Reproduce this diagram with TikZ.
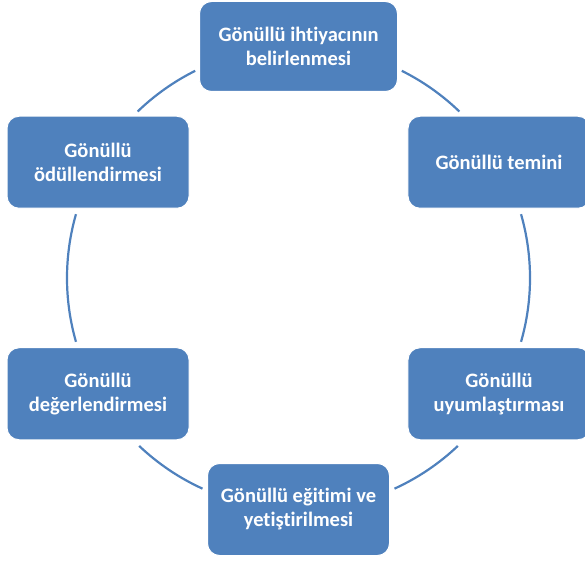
\documentclass[tikz,border=0pt]{standalone}
\usepackage{fontspec}
\setmainfont{Carlito}[Ligatures=NoCommon]
\usetikzlibrary{positioning}
\definecolor{boxblue}{RGB}{79,129,189}

\begin{document}
\begin{tikzpicture}[x=1pt,y=1pt,
  stage/.style={draw=white,line width=1pt,fill=boxblue,rounded corners=12pt,
    minimum width=182pt,minimum height=92pt,align=center,text=white,
    font=\fontsize{20.5}{24}\selectfont\bfseries},
  link/.style={draw=boxblue,line width=2.2pt}]
  \useasboundingbox (0,0) rectangle (585,562);
  \coordinate (c) at (298.5,284);
  \def\rad{231.5}

  % the six stages round the cycle
  \node[stage,minimum width=198pt,minimum height=90pt] (need) at ([shift={(90:\rad)}]c) {Gönüllü ihtiyacının\\belirlenmesi};
  \node[stage] (supply) at ([shift={(30:\rad)}]c) {Gönüllü temini};
  \node[stage] (adapt) at ([shift={(-30:\rad)}]c) {Gönüllü\\uyumlaştırması};
  \node[stage] (train) at ([shift={(-90:\rad)}]c) {Gönüllü eğitimi ve\\yetiştirilmesi};
  \node[stage] (assess) at ([shift={(-150:\rad)}]c) {Gönüllü\\değerlendirmesi};
  \node[stage] (reward) at ([shift={(150:\rad)}]c) {Gönüllü\\ödüllendirmesi};

  % arcs between the stages
  \foreach \a/\b in {46/63.5, -16/16, -65.5/-46.5, 226.5/245.5, 164/196, 116.5/134}
    \draw[link] ([shift={(\a:\rad)}]c) arc[start angle=\a,end angle=\b,radius=\rad];
\end{tikzpicture}
\end{document}
